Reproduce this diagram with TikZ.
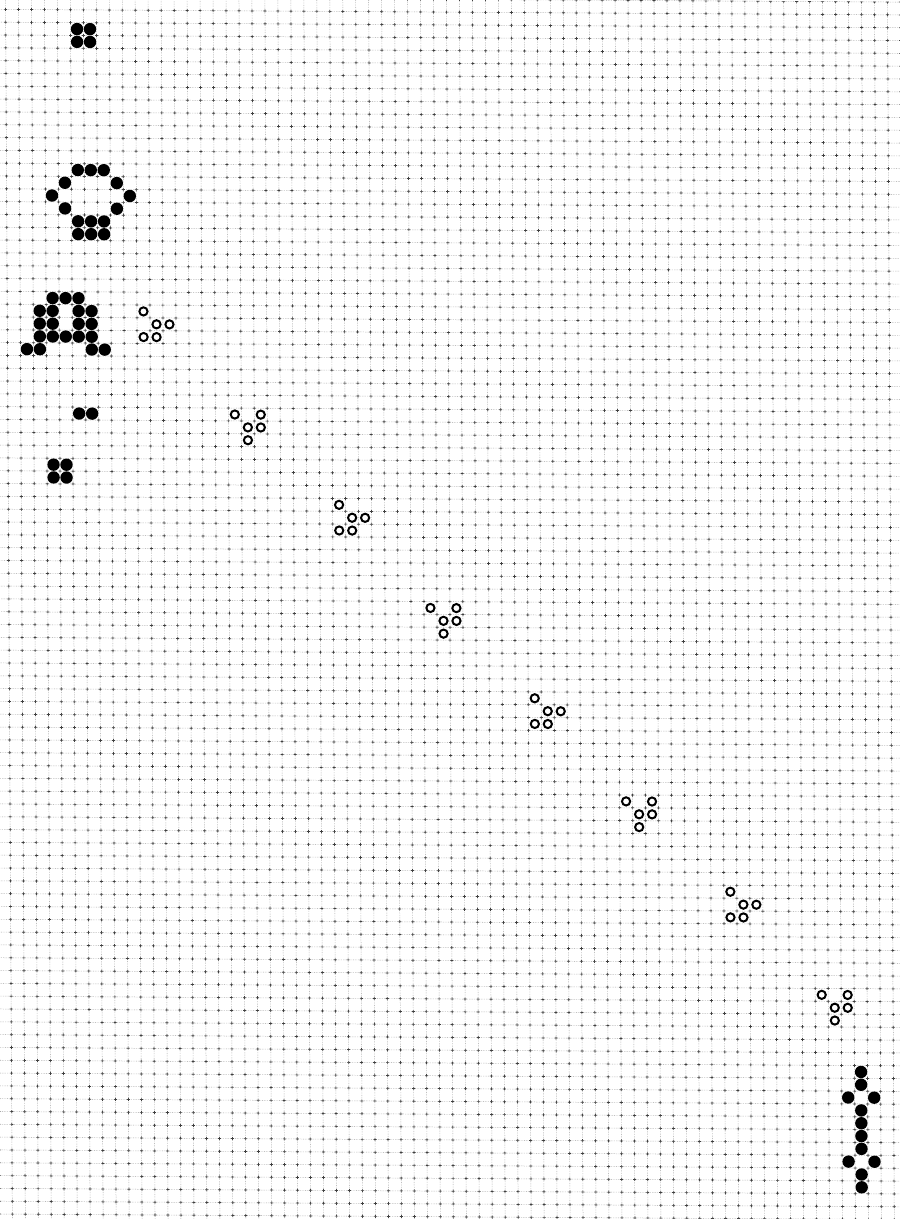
\documentclass[tikz,border=0pt]{standalone}
\usepackage{tikz}

\begin{document}
\begin{tikzpicture}[
  live/.style={circle, fill=black, inner sep=0pt, minimum size=12.4pt},
  glid/.style={circle, draw=black, line width=2pt, inner sep=0pt, minimum size=8.2pt},
  gdot/.style={gray!75, line width=0.5pt, dash pattern=on 0.6pt off 1.1pt},
  vcross/.style={black!75, line width=0.7pt, dash pattern=on 3pt off 9.816pt, dash phase=1.5pt},
  hcross/.style={black!75, line width=0.7pt, dash pattern=on 3pt off 9.97pt, dash phase=1.5pt}
]
\fill[white] (0,0) rectangle (900pt,-1219pt);
\useasboundingbox (0,0) rectangle (900pt,-1219pt);
\clip (0,0) rectangle (900pt,-1219pt);
\begin{scope}[x={(12.97pt,-0.08pt)}, y={(0.072pt,-12.816pt)}, shift={(12.1pt,-15.84pt)}]
\foreach \k in {-1,...,69} {
  \draw[gdot] (\k-0.5,-1.5) -- (\k-0.5,95.5);
  \draw[vcross] (\k-0.5,-1.5) -- (\k-0.5,95.5);
}
\foreach \k in {-1,...,95} {
  \draw[gdot] (-1.5,\k-0.5) -- (69.5,\k-0.5);
  \draw[hcross] (-1.5,\k-0.5) -- (69.5,\k-0.5);
}

\foreach \c/\r [count=\i] in {5/1,6/1,5/2,6/2}
  \node[live] (blkT-\i) at (\c,\r) {};
\foreach \c/\r [count=\i] in {5/12,6/12,7/12,4/13,8/13,3/14,9/14,4/15,8/15,
    5/16,6/16,7/16,5/17,6/17,7/17}
  \node[live] (qb-\i) at (\c,\r) {};
\foreach \c/\r [count=\i] in {3/22,4/22,5/22,2/23,3/23,5/23,6/23,2/24,3/24,5/24,6/24,
    2/25,3/25,4/25,5/25,6/25,1/26,2/26,6/26,7/26}
  \node[live] (gun-\i) at (\c,\r) {};
\foreach \c/\r [count=\i] in {5/31,6/31}
  \node[live] (pair-\i) at (\c,\r) {};
\foreach \c/\r [count=\i] in {3/35,4/35,3/36,4/36}
  \node[live] (blkB-\i) at (\c,\r) {};

\foreach \k in {0,...,3} {
  \foreach \c/\r [count=\i] in {10/23,11/24,12/24,10/25,11/25}
    \node[glid] (gA\k-\i) at (\c+15*\k,\r+15*\k) {};
  \foreach \c/\r [count=\i] in {17/31,19/31,18/32,19/32,18/33}
    \node[glid] (gB\k-\i) at (\c+15*\k,\r+15*\k) {};
}

\foreach \c/\r [count=\i] in {65/82,65/83,64/84,66/84,65/85,65/86,65/87,65/88,
    64/89,66/89,65/90,65/91}
  \node[live] (pd-\i) at (\c,\r) {};
\end{scope}
\end{tikzpicture}
\end{document}
